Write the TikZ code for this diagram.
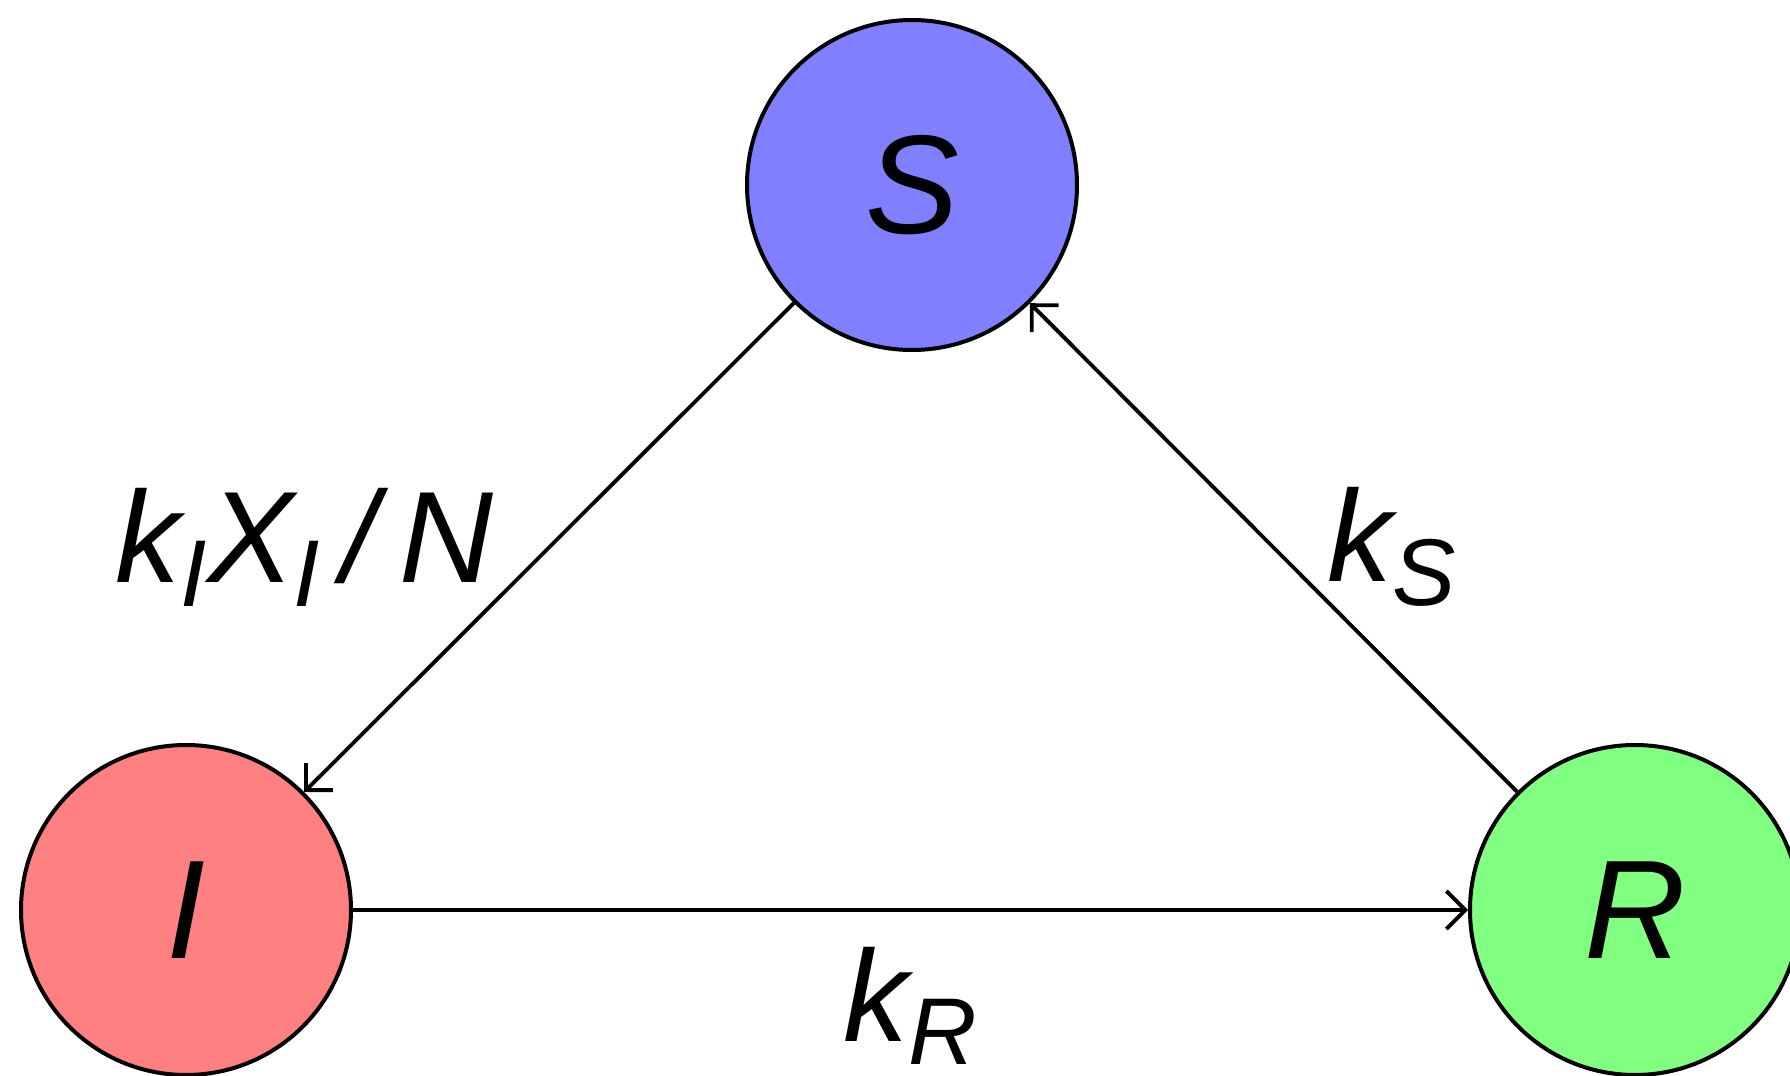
\documentclass[tikz,border=0pt]{standalone}
\usepackage{fontspec}
\setmainfont{Liberation Sans}
\usepackage{tikz}
\usetikzlibrary{positioning, arrows.meta, calc}
\newcommand\lowsub[1]{\raisebox{-6.8pt}{\fontsize{27}{30}\selectfont #1}}
\tikzset{
  arr/.style={-{Straight Barb[length=1.9mm,width=3.8mm]}, line width=0.38mm, draw=black},
  cmp/.style={circle, draw=black, line width=0.4mm, minimum size=33mm, inner sep=0pt,
              font=\fontsize{40}{48}\selectfont\itshape},
  rate/.style={font=\fontsize{37}{44}\selectfont\itshape, inner sep=0pt}
}

\begin{document}
\begin{tikzpicture}[x=0.1mm, y=0.1mm]
\useasboundingbox (0,0) rectangle (1790,1075);
% ---- compartments ----
\node[cmp, fill=blue!50]  (S) at (912,890) {S};
\node[cmp, fill=red!50]   (I) at (186,165) {I};
\node[cmp, fill=green!50] (R) at (1635,165) {R};
% ---- transitions ----
\draw[arr] (S) -- (I);
\draw[arr] (I) -- (R);
\draw[arr] (R) -- (S);
% ---- rates ----
\node[rate, anchor=base west] (kI) at (115,492) {k\lowsub{I}X\lowsub{I}\,/\,N};
\node[rate, anchor=base west] (kS) at (1327,493) {k\lowsub{S}};
\node[rate, anchor=base west] (kR) at (843,34) {k\lowsub{R}};
\end{tikzpicture}
\end{document}
